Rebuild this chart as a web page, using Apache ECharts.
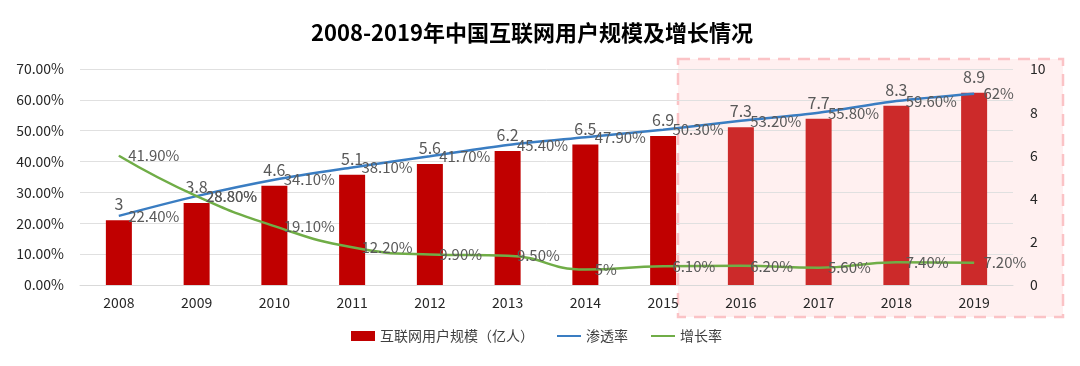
<!DOCTYPE html>
<html>
<head>
<meta charset="utf-8">
<script src="https://cdn.jsdelivr.net/npm/echarts@6/dist/echarts.min.js"></script>
<style>
html,body{margin:0;padding:0;background:#fff;}
#c{width:1080px;height:366px;}
</style>
</head>
<body>
<div id="c"></div>
<script>
var years = ['2008','2009','2010','2011','2012','2013','2014','2015','2016','2017','2018','2019'];
var users = [3, 3.8, 4.6, 5.1, 5.6, 6.2, 6.5, 6.9, 7.3, 7.7, 8.3, 8.9];
var penetration = [0.224, 0.288, 0.341, 0.381, 0.417, 0.454, 0.479, 0.503, 0.532, 0.558, 0.596, 0.62];
var penetrationLabels = ['22.40%','28.80%','34.10%','38.10%','41.70%','45.40%','47.90%','50.30%','53.20%','55.80%','59.60%','62%'];
var growth = [0.419, 0.288, 0.191, 0.122, 0.099, 0.095, 0.05, 0.061, 0.062, 0.056, 0.074, 0.072];
var growthLabels = ['41.90%','28.80%','19.10%','12.20%','9.90%','9.50%','5%','6.10%','6.20%','5.60%','7.40%','7.20%'];
var leftTicks = [0, 0.1, 0.2, 0.3, 0.4, 0.5, 0.6, 0.7];
var rightTicks = [0, 2, 4, 6, 8, 10];

var chart = echarts.init(document.getElementById('c'), null, {renderer: 'canvas'});
var FONT = '"Noto Sans CJK SC","Noto Sans",sans-serif';
var barColors = users.map(function(v, i){ return i >= 8 ? '#CC2A2A' : '#C00000'; });
var hiddenSymbol = {color: 'rgba(0,0,0,0)', borderWidth: 0, opacity: 0};

chart.setOption({
  animation: false,
  backgroundColor: '#fff',
  textStyle: {fontFamily: FONT},
  title: {
    text: '2008-2019年中国互联网用户规模及增长情况',
    left: 306, top: 17,
    textStyle: {fontSize: 22, fontWeight: 'bold', color: '#000', fontFamily: FONT}
  },
  graphic: [{
    type: 'rect', z: -10, silent: true,
    shape: {x: 678, y: 59, width: 385, height: 258},
    style: {fill: '#FFF0F0', stroke: '#FBC3C6', lineWidth: 2.5, lineDash: [12, 8]}
  }],
  legend: {
    bottom: 18, left: 346, itemGap: 22, itemWidth: 24, itemHeight: 10,
    textStyle: {fontSize: 14, color: '#404040', fontFamily: FONT},
    data: [
      {name: '互联网用户规模（亿人）', icon: 'rect'},
      {name: '渗透率', itemStyle: hiddenSymbol},
      {name: '增长率', itemStyle: hiddenSymbol}
    ]
  },
  grid: {left: 80, right: 67, top: 69, bottom: 81},
  xAxis: {
    type: 'category', data: years,
    axisLine: {lineStyle: {color: '#D9D9D9'}},
    axisTick: {show: false},
    axisLabel: {fontSize: 14, color: '#262626', margin: 11}
  },
  yAxis: [{
    type: 'value', min: leftTicks[0], max: leftTicks[leftTicks.length-1], interval: 0.1,
    axisLine: {show: false}, axisTick: {show: false},
    splitLine: {lineStyle: {color: '#E0E0E0'}},
    axisLabel: {fontSize: 14, color: '#262626', margin: 16, formatter: function(v){ return (v*100).toFixed(2) + '%'; }}
  }, {
    type: 'value', min: rightTicks[0], max: rightTicks[rightTicks.length-1], interval: 2,
    axisLine: {show: false}, axisTick: {show: false}, splitLine: {show: false},
    axisLabel: {fontSize: 14, color: '#262626', margin: 17}
  }],
  series: [{
    name: '互联网用户规模（亿人）', type: 'bar', yAxisIndex: 1, barWidth: 26,
    itemStyle: {color: '#C00000'},
    data: users.map(function(v, i){ return {value: v, itemStyle: {color: barColors[i]}}; }),
    label: {show: true, position: 'top', distance: 8, fontSize: 16, color: '#595959'}
  }, {
    name: '渗透率', type: 'line', yAxisIndex: 0, smooth: 0.3,
    symbol: 'circle', symbolSize: 0.5, showSymbol: true,
    lineStyle: {width: 2.5, color: '#3A7DC2'}, itemStyle: {color: '#3A7DC2'},
    data: penetration,
    label: {show: true, position: 'right', distance: 9, fontSize: 15, color: '#595959',
      formatter: function(p){ return penetrationLabels[p.dataIndex]; }}
  }, {
    name: '增长率', type: 'line', yAxisIndex: 0, smooth: true,
    symbol: 'circle', symbolSize: 0.5, showSymbol: true,
    lineStyle: {width: 2.5, color: '#70AD47'}, itemStyle: {color: '#70AD47'},
    data: growth,
    label: {show: true, position: 'right', distance: 9, fontSize: 15, color: '#595959',
      formatter: function(p){ return growthLabels[p.dataIndex]; }}
  }]
});
</script>
</body>
</html>
